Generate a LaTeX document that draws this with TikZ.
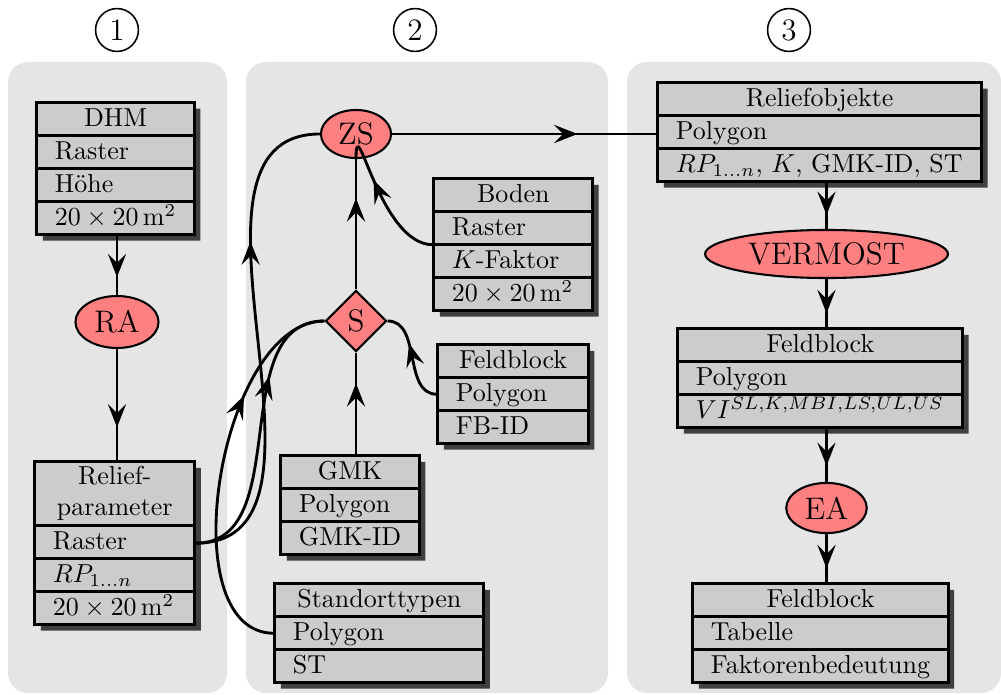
\documentclass[tikz,border=0pt]{standalone}
\usepackage{amsmath}
\usepackage{amsfonts}
\usepackage{amssymb}
\usepackage{color}
\usepackage{tikz}
\usetikzlibrary{shapes.geometric,shapes.multipart,shadows,decorations.markings,arrows.meta}

\newcommand{\rowstrut}{\rule[-3.2pt]{0pt}{12.1pt}}

\tikzset{
  panel/.style={fill=gray!20, rounded corners=7.7pt},
  stepno/.style={circle, draw, line width=0.6pt, minimum size=16.5pt, inner sep=0pt, font=\large},
  relbox/.style={rectangle split, rectangle split parts=#1, draw=black!85, line width=0.6pt, fill=gray!40,
    rectangle split part align={center,left,left,left}, inner xsep=7pt, inner ysep=0pt, anchor=north west,
    drop shadow={shadow xshift=2.3pt, shadow yshift=-2.3pt, fill=black!75, opacity=1},
    postaction={draw=black, line width=1.1pt}},
  proc/.style={ellipse, draw, line width=0.8pt, fill=red!50, font=\large, inner sep=0pt},
  flow/.style={line width=1.1pt, decoration={markings, mark=at position #1 with {\arrow{Stealth[length=9pt,width=7pt,inset=3.5pt]}}}, postaction={decorate}},
  flow/.default=0.7
}

\begin{document}
\begin{tikzpicture}[x=0.385pt,y=0.385pt,yscale=-1]
\useasboundingbox (0,0) rectangle (1001,695);

%Shape: Rectangle
\fill [panel] (8,62) rectangle (227,693);
\fill [panel] (246,62) rectangle (608,693);
\fill [panel] (627,62) rectangle (1001,693);

% Text Node
\node [stepno] (n1) at (117,30) {1};
\node [stepno] (n2) at (415,30) {2};
\node [stepno] (n3) at (789,30) {3};

% Text Node
\node [relbox=4, minimum width=60.4pt] (dhm) at (36,102) {DHM\rowstrut \nodepart{two} Raster\rowstrut \nodepart{three} H\"ohe\rowstrut \nodepart{four} $20\times20\,\mathrm{m}^2$\rowstrut};
\node [proc, minimum width=32pt, minimum height=20pt] (ra) at (117,322) {RA};
\node [relbox=4, minimum width=61.6pt] (relief) at (34,461) {\begin{tabular}{@{}c@{}}Relief-\\parameter\end{tabular} \nodepart{two} Raster\rowstrut \nodepart{three} $RP_{1\ldots n}$\rowstrut \nodepart{four} $20\times20\,\mathrm{m}^2$\rowstrut};

% Text Node
\node [proc, minimum width=27pt, minimum height=18.5pt] (zs) at (356,134) {ZS};
\node [diamond, draw, line width=0.8pt, fill=red!50, font=\large, minimum size=23.5pt, inner sep=0pt] (s) at (356,321) {S};
\node [relbox=4, minimum width=61.2pt] (boden) at (433,178) {Boden\rowstrut \nodepart{two} Raster\rowstrut \nodepart{three} $K$-Faktor\rowstrut \nodepart{four} $20\times20\,\mathrm{m}^2$\rowstrut};
\node [relbox=3, minimum width=58pt] (fb) at (437,344) {Feldblock\rowstrut \nodepart{two} Polygon\rowstrut \nodepart{three} FB-ID\rowstrut};
\node [relbox=3, minimum width=52.7pt] (gmk) at (280,455) {GMK\rowstrut \nodepart{two} Polygon\rowstrut \nodepart{three} GMK-ID\rowstrut};
\node [relbox=3, minimum width=80.5pt] (stand) at (274,583) {Standorttypen\rowstrut \nodepart{two} Polygon\rowstrut \nodepart{three} ST\rowstrut};

% Text Node
\node [relbox=3, minimum width=124.7pt] (relobj) at (657,82) {Reliefobjekte\rowstrut \nodepart{two} Polygon\rowstrut \nodepart{three} $RP_{1\ldots n}$, $K$, GMK-ID, ST\rowstrut};
\node [proc, minimum width=93.5pt, minimum height=18.5pt] (vermost) at (826.5,254) {VERMOST};
\node [relbox=3, minimum width=109.7pt] (fbvi) at (677,328) {Feldblock\rowstrut \nodepart{two} Polygon\rowstrut \nodepart{three} $VI^{SL,K,MBI,LS,UL,US}$\rowstrut};
\node [proc, minimum width=31pt, minimum height=19.3pt] (ea) at (826.5,508) {EA};
\node [relbox=3, minimum width=98.2pt] (fbtab) at (692,583) {Feldblock\rowstrut \nodepart{two} Tabelle\rowstrut \nodepart{three} Faktorenbedeutung\rowstrut};

%Straight Lines
\draw [flow] (dhm.south -| ra) -- (ra);
\draw [flow] (ra) -- (relief.north -| ra);
\draw [flow] (s) -- (zs);
\draw [flow] (gmk.north -| s) -- (s);
\draw [flow] (zs.east) -- (relobj.west |- zs.east);
\draw [flow] (relobj.south -| vermost) -- (vermost);
\draw [flow] (vermost) -- (fbvi.north -| vermost);
\draw [flow] (fbvi.south -| ea) -- (ea);
\draw [flow] (ea) -- (fbtab.north -| ea);

%Curve Lines
\draw [flow=0.65] (boden.west) to[out=180,in=-90,looseness=1.2] (zs.south);
\draw [flow=0.65] (fb.west) to[out=180,in=0] (s.east);
\draw [flow] (relief.east) to[out=0,in=180] (zs.west);
\draw [flow] (relief.east) to[out=0,in=180] (s.west);
\draw [flow] (stand.west) to[out=180,in=180,looseness=0.85] (s.west);

\end{tikzpicture}
\end{document}
